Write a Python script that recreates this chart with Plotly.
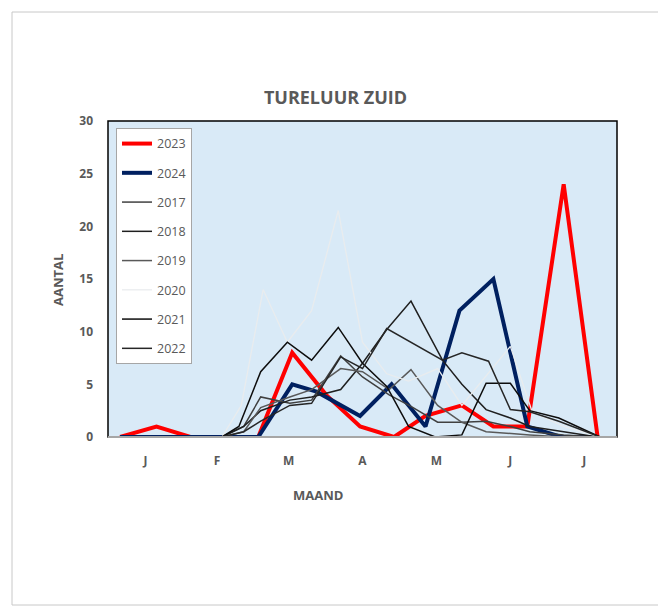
import plotly.graph_objects as go

# Day-of-year positions and counts per year
d2023 = [5, 20, 34, 62, 76, 90, 104, 118, 131, 146, 159, 173, 188, 202]
v2023 = [0, 1, 0, 0, 8, 4, 1, 0, 2, 3, 1, 1, 24, 0]

d2024 = [5, 20, 34, 48, 62, 76, 86, 104, 117, 131, 145, 159, 173, 187, 202]
v2024 = [0, 0, 0, 0, 0, 5, 4.3, 2, 5, 1, 12, 15, 1, 0, 0]

d2017 = [5, 33, 47, 56, 63, 75, 84, 96, 105, 116, 125, 136, 146, 156, 166, 174, 188, 202]
v2017 = [0, 0, 0, 1, 3.8, 3.2, 3.5, 7.7, 5.7, 4, 2.9, 1.4, 1.4, 1.5, 1, 0.5, 0.2, 0]

d2018 = [5, 33, 47, 56, 63, 75, 84, 96, 105, 115, 125, 138, 146, 156, 166, 174, 188, 202]
v2018 = [0, 0, 0, 1, 2.5, 3.5, 3.8, 4.5, 7, 10.2, 12.9, 7.3, 5, 2.6, 1.8, 1, 0.5, 0]

d2019 = [5, 33, 47, 56, 63, 75, 84, 96, 105, 116, 125, 136, 146, 156, 166, 174, 188, 202]
v2019 = [0, 0, 0, 0.5, 2.8, 3.8, 4.5, 6.5, 6.2, 4.5, 6.4, 3, 1.4, 0.5, 0.3, 0.2, 0, 0]

d2020 = [5, 20, 34, 47, 55, 64, 74, 84, 95, 105, 115, 124, 136, 146, 166, 175, 188, 203]
v2020 = [0, 0, 0, 0, 3, 14, 9, 12, 21.5, 9, 6, 5.3, 6.5, 3, 8.6, 2.4, 1, 0]

d2021 = [5, 33, 47, 54, 63, 74, 84, 95, 105, 115, 124, 135, 146, 156, 166, 174, 186, 203]
v2021 = [0, 0, 0, 1, 6.2, 9, 7.3, 10.4, 7, 4.8, 1, 0, 0.2, 5.1, 5.1, 2.5, 1.8, 0]

d2022 = [5, 33, 47, 56, 63, 75, 84, 96, 105, 115, 125, 138, 146, 157, 166, 174, 186, 203]
v2022 = [0, 0, 0, 0.5, 1.5, 3, 3.2, 7.6, 6.5, 10.3, 9, 7.3, 8, 7.2, 2.6, 2.4, 1.5, 0]

month_pos = [15.5, 45, 74.5, 105, 135.5, 166, 196.5]
month_labels = ["J", "F", "M", "A", "M", "J", "J"]

series = [
    ("2023", d2023, v2023, "#FF0000", 4),
    ("2024", d2024, v2024, "#002060", 4),
    ("2017", d2017, v2017, "#404040", 1.5),
    ("2018", d2018, v2018, "#1F1F1F", 1.5),
    ("2019", d2019, v2019, "#595959", 1.5),
    ("2020", d2020, v2020, "#E9ECEE", 1.3),
    ("2021", d2021, v2021, "#0D0D0D", 1.5),
    ("2022", d2022, v2022, "#262626", 1.5),
]

fig = go.Figure()
for name, xs, ys, col, w in series:
    fig.add_trace(go.Scatter(x=xs, y=ys, mode="lines", name=name, legendgroup=name,
                             line=dict(color=col, width=w)))

gray = "#595959"
font_family = "Open Sans"
W, H = 658, 598

fig.update_layout(
    width=W, height=H,
    margin=dict(l=100, r=49, t=113, b=169),
    paper_bgcolor="white",
    plot_bgcolor="#D9EAF7",
    showlegend=True,
    title=dict(text="<b>TURELUUR ZUID</b>", x=327.5 / W, xanchor="center",
               y=1 - 90 / H, yanchor="middle",
               font=dict(family=font_family, size=18, color=gray)),
    legend=dict(x=0.0157, y=0.978, xanchor="left", yanchor="top",
                bgcolor="white", bordercolor="#A6A6A6", borderwidth=1,
                font=dict(family=font_family, size=12.5, color=gray),
                tracegroupgap=10, itemwidth=30),
    xaxis=dict(range=[0, 210], tickvals=month_pos, ticktext=month_labels,
               showgrid=False, zeroline=False, showline=False, ticks="",
               ticklabelstandoff=15,
               tickfont=dict(family=font_family, size=12, color=gray, weight="bold")),
    yaxis=dict(range=[0, 30], tickvals=[0, 5, 10, 15, 20, 25, 30],
               showgrid=False, zeroline=False, showline=False, ticks="",
               ticklabelstandoff=14,
               tickfont=dict(family=font_family, size=12, color=gray, weight="bold")),
    annotations=[
        dict(text="<b>MAAND</b>", xref="paper", yref="paper", x=(318 - 108) / 509,
             y=(437 - 495) / 316, showarrow=False, xanchor="center", yanchor="middle",
             font=dict(family=font_family, size=13, color=gray)),
        dict(text="<b>AANTAL</b>", xref="paper", yref="paper", x=(58 - 108) / 509,
             y=(437 - 280) / 316, showarrow=False, textangle=-90,
             xanchor="center", yanchor="middle",
             font=dict(family=font_family, size=13, color=gray)),
    ],
    shapes=[
        dict(type="rect", xref="paper", yref="paper", x0=0, x1=1, y0=0, y1=1,
             line=dict(color="black", width=1.5), layer="above"),
        dict(type="line", xref="paper", yref="paper", x0=0, x1=1, y0=0, y1=0,
             line=dict(color="#A6A6A6", width=2), layer="above"),
        dict(type="rect", xref="paper", yref="paper",
             x0=(12 - 108) / 509, x1=(665 - 108) / 509,
             y0=(437 - 605) / 316, y1=(437 - 12) / 316,
             line=dict(color="#C8C8C8", width=1), layer="below"),
    ],
)

fig.write_html("out.html")
